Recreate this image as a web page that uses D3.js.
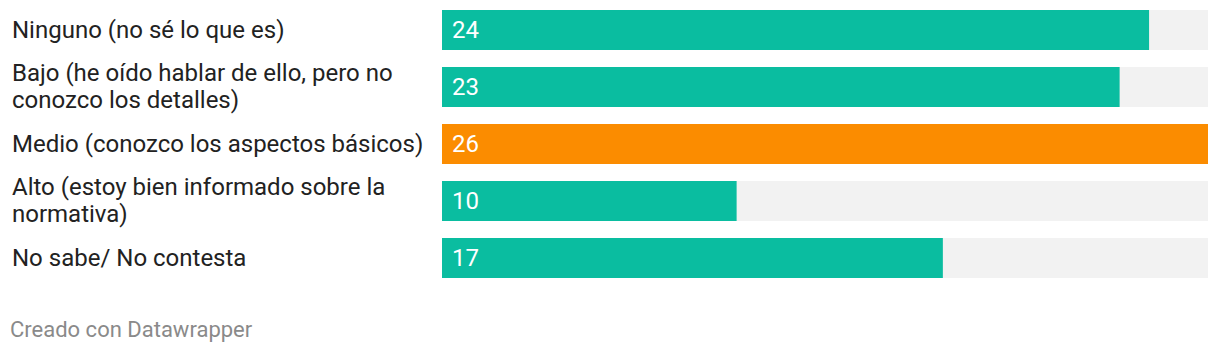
<!DOCTYPE html>
<html>
<head>
<meta charset="utf-8">
<script src="https://cdn.jsdelivr.net/npm/d3@7"></script>
<style>
  html, body { margin: 0; padding: 0; background: #fff; }
  body { width: 1220px; height: 354px; overflow: hidden; }
  text { font-family: Roboto, "Noto Sans", sans-serif; }
</style>
</head>
<body>
<div id="chart"></div>
<script>
// Datos del gráfico
const categories = [
    "Ninguno (no sé lo que es)",
    "Bajo (he oído hablar de ello, pero no conozco los detalles)",
    "Medio (conozco los aspectos básicos)",
    "Alto (estoy bien informado sobre la normativa)",
    "No sabe/ No contesta"
];
const values = [24, 23, 26, 10, 17];
const highlight = "Medio (conozco los aspectos básicos)";
const footer = "Creado con Datawrapper";

// Dimensiones
const W = 1220, H = 354;
const margin = { top: 10, left: 442, right: 12 };
const labelX = 12;
const labelWidth = 424;

const svg = d3.select("#chart").append("svg")
    .attr("width", W)
    .attr("height", H);

const x = d3.scaleLinear()
    .domain([0, d3.max(values)])
    .range([margin.left, W - margin.right]);

const y = d3.scaleBand()
    .domain(categories)
    .range([margin.top, 278])
    .paddingInner(17 / 57)
    .paddingOuter(0);

const rows = categories.map((c, i) => ({ cat: c, val: values[i] }));

// Fondo de las barras
svg.selectAll(".track")
    .data(rows)
    .enter().append("rect")
    .attr("class", "track")
    .attr("x", x(0))
    .attr("y", d => y(d.cat))
    .attr("width", x(d3.max(values)) - x(0))
    .attr("height", y.bandwidth())
    .attr("fill", "#f2f2f2");

// Barras
svg.selectAll(".bar")
    .data(rows)
    .enter().append("rect")
    .attr("class", "bar")
    .attr("x", x(0))
    .attr("y", d => y(d.cat))
    .attr("width", d => x(d.val) - x(0))
    .attr("height", y.bandwidth())
    .attr("fill", d => d.cat === highlight ? "#fb8c00" : "#0abda0");

// Valores
svg.selectAll(".value")
    .data(rows)
    .enter().append("text")
    .attr("class", "value")
    .attr("x", x(0) + 10)
    .attr("y", d => y(d.cat) + y.bandwidth() / 2 + 7.5)
    .attr("fill", "#fff")
    .style("font-size", "24px")
    .text(d => d.val);

// Etiquetas con salto de línea
const labels = svg.selectAll(".label")
    .data(rows)
    .enter().append("text")
    .attr("class", "label")
    .attr("x", labelX)
    .attr("fill", "#222")
    .style("font-size", "24px");

labels.each(function(d) {
    const t = d3.select(this);
    const words = d.cat.split(" ");
    const lines = [];
    let line = [];
    const probe = t.append("tspan");
    words.forEach(w => {
        line.push(w);
        probe.text(line.join(" "));
        if (probe.node().getComputedTextLength() > labelWidth && line.length > 1) {
            line.pop();
            lines.push(line.join(" "));
            line = [w];
        }
    });
    lines.push(line.join(" "));
    probe.remove();
    const lh = 27.6;
    const cy = y(d.cat) + y.bandwidth() / 2 + 7.5 - (lines.length - 1) * lh / 2;
    lines.forEach((l, i) => {
        t.append("tspan")
            .attr("x", labelX)
            .attr("y", cy + i * lh)
            .text(l);
    });
});

// Pie
svg.append("text")
    .attr("x", 10)
    .attr("y", 337)
    .attr("fill", "#8a8a8a")
    .style("font-size", "22px")
    .text(footer);
</script>
</body>
</html>
